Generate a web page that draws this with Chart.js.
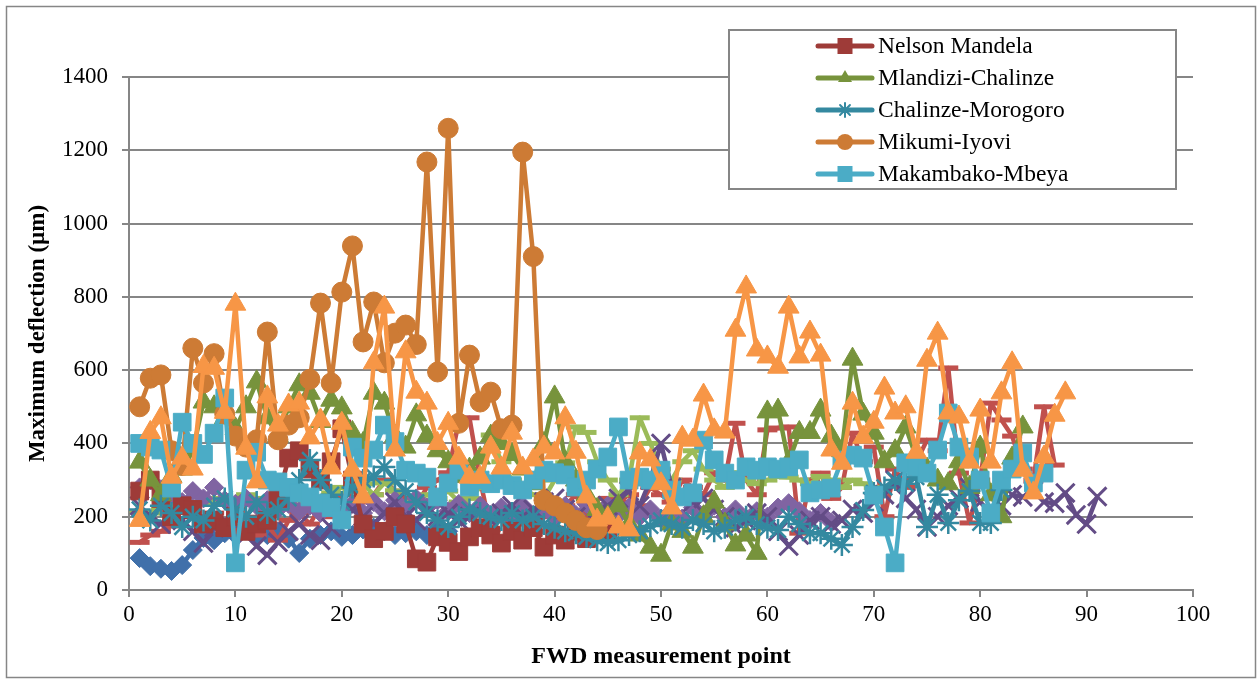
<!DOCTYPE html>
<html>
<head>
<meta charset="utf-8">
<script src="https://cdn.jsdelivr.net/npm/chart.js@4.4.1/dist/chart.umd.min.js"></script>
<style>
  html, body { margin: 0; padding: 0; background: #fff; }
  #wrap { position: relative; width: 1258px; height: 684px; }
</style>
</head>
<body>
<div id="wrap"><canvas id="fwdChart"></canvas></div>
<script>
// axis ticks
let xTickValues = [0, 10, 20, 30, 40, 50, 60, 70, 80, 90, 100]
let yTickValues = [0, 200, 400, 600, 800, 1000, 1200, 1400]

// max deflection per FWD point (um), point n = index + 1
let nelsonMandela = [270,300,250,200,230,220,180,190,170,200,
  160,180,190,250,360,380,330,300,350,440,
  300,180,140,160,200,180,85,76,145,130,
  105,145,170,150,128,160,136,170,117,150,
  136,160,140,170,160]

let mlandiziChalinze = [349,300,260,310,330,380,513,500,470,440,
  500,568,470,420,500,560,537,460,518,497,
  430,400,537,510,420,390,478,420,380,350,
  310,330,360,420,400,370,330,290,400,527,
  350,300,260,220,200,230,180,150,117,95,
  180,160,117,200,240,180,123,150,100,486,
  491,350,430,430,491,420,380,630,480,428,
  350,380,445,360,330,300,290,350,280,390,
  260,200,360,445]

let chalinzeMorogoro = [220,190,230,210,172,200,190,230,250,220,
  200,240,210,220,250,300,355,300,260,240,
  280,300,310,336,300,270,240,210,190,172,
  200,220,210,200,191,210,190,200,180,170,
  160,155,145,136,128,136,150,160,175,190,
  180,170,191,180,160,170,190,200,180,170,
  164,200,180,155,155,140,123,172,218,265,
  280,300,290,308,172,260,183,245,270,183,
  183,273]

let mikumiIyovi = [500,578,587,380,340,660,565,645,480,420,
  390,410,704,410,450,470,575,783,565,813,
  939,677,786,620,701,723,670,1168,595,1260,
  455,641,513,540,440,450,1195,910,245,230,
  210,190,170,165]

let makambakoMbeya = [400,390,382,278,458,400,370,428,524,74,
  327,376,300,295,280,265,254,237,225,191,
  390,360,382,450,405,327,319,308,254,292,
  327,281,300,290,300,285,273,300,327,320,
  314,281,300,330,363,445,300,308,300,327,
  273,254,265,409,355,319,300,336,327,336,
  330,336,355,265,273,278,355,368,360,259,
  172,74,347,336,319,382,483,390,363,300,
  210,300,330,374,292,319]

// other sections (not in legend)
let blueDiamond = [87,65,58,52,68,109,142,136,155,150,
  165,145,150,160,140,101,140,150,160,145,
  150,165,170,160,150,155,160,150,165,160]

let redDash = [130,150,160,175,226,200,180,210,190,160,
  170,150,180,136,190,210,180,230,200,260,
  220,240,260,300,270,250,230,280,300,320,
  460,470,300,164,200,180,190,160,210,200,
  230,260,200,220,250,240,260,230,280,260,
  240,300,280,260,320,300,455,300,260,437,
  442,445,155,300,319,250,280,428,350,390,
  200,330,280,350,409,380,606,319,183,300,
  510,464,420,330,300,500,341]

let greenDash = [213,210,225,230,220,240,235,250,240,230,
  260,250,240,260,250,245,230,250,265,280,
  270,290,260,292,270,227,240,260,250,270,
  240,250,280,423,350,300,280,260,250,300,
  347,445,430,350,300,260,300,470,400,330,
  300,350,380,330,300,280,320,300,290,300,
  310,308,300,290,310,300,280,300,290,280]

let purpleDiamond = [280,300,275,260,240,270,250,280,245,235,
  250,230,245,220,235,215,230,210,225,205,
  235,210,240,215,245,220,250,225,245,215,
  235,210,230,205,225,200,230,205,225,200,
  230,205,235,210,230,205,225,200,220,195,
  215,195,225,205,230,200,220,195,215,200,
  225,237,215,191,210,185]

let purpleCross = [230,200,180,210,190,160,128,170,190,200,
  150,120,95,130,160,180,150,136,170,190,
  220,200,180,210,240,200,190,220,200,210,
  190,200,180,190,210,230,200,220,240,250,
  220,200,190,210,230,250,270,230,300,400,
  280,260,240,250,220,200,170,190,210,200,
  160,120,150,190,200,180,190,220,210,240,
  260,300,250,220,172,200,230,250,280,240,
  210,230,260,254,270,240,237,265,205,180,255]

let orangeTriangle = [190,430,470,308,360,330,610,605,485,780,
  387,295,527,450,505,510,415,464,333,455,
  327,254,620,772,382,650,540,510,400,455,
  360,308,308,390,333,428,333,355,390,374,
  470,376,254,191,196,172,164,374,355,290,
  224,417,409,532,437,431,709,827,655,636,
  608,772,636,704,641,382,346,510,417,458,
  551,483,500,376,627,701,483,472,349,491,
  349,538,620,327,265,363,477,538]

function toPoints(arr) {
  return arr.map((v, i) => ({ x: i + 1, y: v }))
}

// z: smaller order = drawn on top
function series(label, values, color, style, radius, order, extra) {
  return Object.assign({
    label: label,
    data: toPoints(values),
    borderColor: color,
    backgroundColor: color,
    pointBackgroundColor: color,
    pointBorderColor: color,
    borderWidth: 4.5,
    borderJoinStyle: 'round',
    borderCapStyle: 'round',
    pointStyle: style,
    pointRadius: radius,
    pointHoverRadius: radius,
    pointBorderWidth: 1,
    tension: 0,
    order: order,
    inLegend: false
  }, extra || {})
}

let datasets = [
  series('Nelson Mandela', nelsonMandela, '#9E3B38', 'rect', 12.5, 5, { inLegend: true, legendMark: 'square' }),
  series('Mlandizi-Chalinze', mlandiziChalinze, '#77933C', 'triangle', 12, 4, { inLegend: true, legendMark: 'triangle' }),
  series('Chalinze-Morogoro', chalinzeMorogoro, '#3489A0', 'star', 11, 3, { inLegend: true, legendMark: 'star', pointBorderWidth: 2.5 }),
  series('Mikumi-Iyovi', mikumiIyovi, '#CD7B35', 'circle', 10, 2, { inLegend: true, legendMark: 'circle' }),
  series('Makambako-Mbeya', makambakoMbeya, '#4BACC6', 'rect', 12.5, 1, { inLegend: true, legendMark: 'square' }),
  series('S1', blueDiamond, '#4070AA', 'rectRot', 9.5, 10),
  series('S2', redDash, '#C0504D', 'line', 10, 9, { pointBorderWidth: 5 }),
  series('S3', greenDash, '#9BBB59', 'line', 10, 8, { pointBorderWidth: 5 }),
  series('S4', purpleDiamond, '#8064A2', 'rectRot', 9.5, 7),
  series('S5', purpleCross, '#634C86', 'crossRot', 13, 6, { pointBorderWidth: 3 }),
  series('S6', orangeTriangle, '#F79646', 'triangle', 12, 0)
]

let frameColor = '#868686'
let serif = "'Liberation Serif', 'Times New Roman', serif"

// white page + thin grey frame
let framePlugin = {
  id: 'frame',
  beforeDraw(chart) {
    let c = chart.ctx
    c.save()
    c.fillStyle = '#fff'
    c.fillRect(0, 0, chart.width, chart.height)
    c.strokeStyle = frameColor
    c.lineWidth = 1.5
    c.strokeRect(6.5, 6.5, 1249, 671)
    c.restore()
  }
}

function drawMark(c, kind, x, y, color) {
  c.fillStyle = color
  c.strokeStyle = color
  c.beginPath()
  if (kind === 'square') {
    c.rect(x - 7.5, y - 8, 15, 16)
    c.fill()
  } else if (kind === 'triangle') {
    c.moveTo(x, y - 8)
    c.lineTo(x + 7, y + 4)
    c.lineTo(x - 7, y + 4)
    c.closePath()
    c.fill()
  } else if (kind === 'circle') {
    c.arc(x, y, 8, 0, Math.PI * 2)
    c.fill()
  } else if (kind === 'star') {
    c.lineWidth = 2
    for (let k = 0; k < 4; k++) {
      let a = k * Math.PI / 4
      c.moveTo(x - Math.cos(a) * 7, y - Math.sin(a) * 7)
      c.lineTo(x + Math.cos(a) * 7, y + Math.sin(a) * 7)
    }
    c.stroke()
  }
}

// boxed legend in the top right, only the named sections
let legendPlugin = {
  id: 'boxLegend',
  afterDraw(chart) {
    let c = chart.ctx
    let items = chart.data.datasets.filter(d => d.inLegend)
    let bx = 729, by = 30, bw = 447, bh = 159
    c.save()
    c.fillStyle = '#fff'
    c.fillRect(bx, by, bw, bh)
    c.strokeStyle = frameColor
    c.lineWidth = 2
    c.strokeRect(bx, by, bw, bh)
    c.font = '23.5px ' + serif
    c.textBaseline = 'middle'
    c.textAlign = 'left'
    items.forEach((d, i) => {
      let y = 46 + i * 32
      c.strokeStyle = d.borderColor
      c.lineWidth = 5
      c.lineCap = 'round'
      c.beginPath()
      c.moveTo(818, y)
      c.lineTo(872, y)
      c.stroke()
      drawMark(c, d.legendMark, 845, y, d.borderColor)
      c.fillStyle = '#000'
      c.fillText(d.label, 878, y + 1)
    })
    c.restore()
  }
}

Chart.defaults.font.family = serif
Chart.defaults.color = '#000'

let ctx = document.getElementById('fwdChart').getContext('2d')
let fwdChart = new Chart(ctx, {
  type: 'line',
  data: { datasets: datasets },
  options: {
    responsive: true,
    maintainAspectRatio: false,
    animation: false,
    layout: { padding: { top: 77, right: 65, left: 0, bottom: 0 } },
    plugins: {
      legend: { display: false },
      tooltip: { enabled: false }
    },
    scales: {
      x: {
        type: 'linear',
        min: 0,
        max: 100,
        afterBuildTicks: s => { s.ticks = xTickValues.map(v => ({ value: v })) },
        afterFit: s => { s.height = 94 },
        ticks: { font: { size: 23 }, color: '#000', padding: 4, maxRotation: 0, callback: v => String(v) },
        grid: { drawOnChartArea: false, drawTicks: true, tickLength: 7, color: frameColor, lineWidth: 2 },
        border: { color: frameColor, width: 2 },
        title: {
          display: true,
          text: 'FWD measurement point',
          font: { size: 24, weight: 'bold' },
          color: '#000',
          padding: { bottom: 13 }
        }
      },
      y: {
        min: 0,
        max: 1400,
        afterBuildTicks: s => { s.ticks = yTickValues.map(v => ({ value: v })) },
        afterFit: s => { s.width = 129 },
        ticks: { font: { size: 23 }, color: '#000', padding: 14, callback: v => String(v) },
        grid: { color: frameColor, lineWidth: 2, tickLength: 7 },
        border: { color: frameColor, width: 2 },
        title: {
          display: true,
          text: 'Maximum deflection (µm)',
          font: { size: 23, weight: 'bold' },
          color: '#000',
          padding: { top: 24 }
        }
      }
    }
  },
  plugins: [framePlugin, legendPlugin]
})
</script>
</body>
</html>
